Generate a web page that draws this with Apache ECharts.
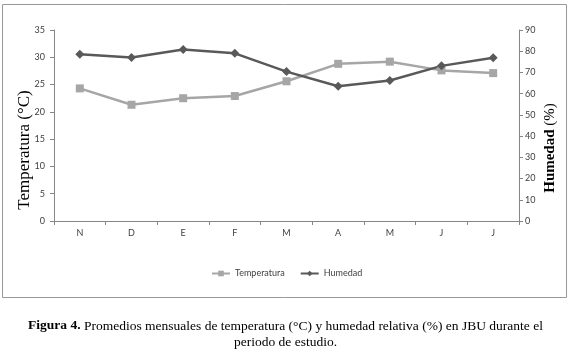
<!DOCTYPE html>
<html>
<head>
<meta charset="utf-8">
<script src="https://cdn.jsdelivr.net/npm/echarts@6/dist/echarts.min.js"></script>
<style>
	html, body { margin: 0; padding: 0; background: #fff; }
	#chart { width: 571px; height: 356px; }
</style>
</head>
<body>
<div id="chart"></div>
<script>
	// meses del periodo de estudio
	const months = ['N', 'D', 'E', 'F', 'M', 'A', 'M', 'J', 'J']
	const temperatura = [24.3, 21.3, 22.5, 22.9, 25.6, 28.8, 29.2, 27.6, 27.1]
	const humedad = [78.6, 77.0, 80.8, 79.0, 70.4, 63.5, 66.2, 73.1, 76.9]
	const tempTicks = [0, 35, 5]
	const humTicks = [0, 90, 10]

	const chart = echarts.init(document.getElementById('chart'))
	const axisGray = '#868686'
	const labelStyle = { color: '#404040', fontFamily: 'Lato', fontSize: 9 }

	const option = {
		backgroundColor: '#fff',
		animation: false,
		grid: { left: 54, right: 52, top: 30, bottom: 135 },
		legend: {
			left: 206,
			top: 264,
			itemGap: 15,
			itemWidth: 18,
			itemHeight: 7,
			textStyle: { color: '#404040', fontFamily: 'Lato', fontSize: 9 },
			data: ['Temperatura', 'Humedad']
		},
		title: {
			left: 'center',
			top: 313,
			text: '{b|Figura 4.} Promedios mensuales de temperatura (°C) y humedad relativa (%) en JBU durante el\nperiodo de estudio.',
			textStyle: {
				fontFamily: 'Liberation Serif',
				fontSize: 13.5,
				fontWeight: 'normal',
				color: '#000',
				lineHeight: 16,
				rich: {
					b: { fontFamily: 'Liberation Serif', fontSize: 13.5, fontWeight: 'bold', color: '#000' }
				}
			}
		},
		graphic: [
			{
				type: 'rect',
				shape: { x: 2.5, y: 4.5, width: 564, height: 293 },
				style: { fill: 'none', stroke: '#999', lineWidth: 1 },
				silent: true
			},
			{
				type: 'text',
				x: 25, y: 150, rotation: Math.PI / 2,
				style: {
					text: 'Temperatura (°C)', fontFamily: 'Liberation Serif', fontSize: 17,
					fill: '#000', align: 'center', verticalAlign: 'middle'
				}
			},
			{
				type: 'text',
				x: 550, y: 148, rotation: Math.PI / 2,
				style: {
					text: '{b|Humedad} (%)',
					fontFamily: 'Liberation Serif', fontSize: 15, fill: '#000',
					align: 'center', verticalAlign: 'middle',
					rich: { b: { fontFamily: 'Liberation Serif', fontSize: 15, fontWeight: 'bold', fill: '#000' } }
				}
			}
		],
		xAxis: {
			type: 'category',
			data: months,
			boundaryGap: true,
			axisLine: { lineStyle: { color: axisGray } },
			axisTick: { show: true, length: 4, lineStyle: { color: axisGray } },
			axisLabel: Object.assign({ margin: 8 }, labelStyle)
		},
		yAxis: [
			{
				type: 'value',
				min: tempTicks[0], max: tempTicks[1], interval: tempTicks[2],
				axisLine: { show: true, lineStyle: { color: axisGray } },
				axisTick: { show: true, length: 4, lineStyle: { color: axisGray } },
				splitLine: { show: false },
				axisLabel: Object.assign({ margin: 9 }, labelStyle)
			},
			{
				type: 'value',
				position: 'right',
				min: humTicks[0], max: humTicks[1], interval: humTicks[2],
				axisLine: { show: true, lineStyle: { color: axisGray } },
				axisTick: { show: true, length: 4, lineStyle: { color: axisGray } },
				splitLine: { show: false },
				axisLabel: Object.assign({ margin: 6 }, labelStyle)
			}
		],
		series: [
			{
				name: 'Temperatura',
				type: 'line',
				yAxisIndex: 0,
				data: temperatura,
				symbol: 'rect',
				symbolSize: 8,
				color: '#a6a6a6',
				lineStyle: { width: 2.5, color: '#a6a6a6' },
				itemStyle: { color: '#a6a6a6' }
			},
			{
				name: 'Humedad',
				type: 'line',
				yAxisIndex: 1,
				data: humedad,
				symbol: 'diamond',
				symbolSize: 9,
				color: '#595959',
				lineStyle: { width: 2.5, color: '#595959' },
				itemStyle: { color: '#595959' }
			}
		]
	}
	chart.setOption(option)
</script>
</body>
</html>
